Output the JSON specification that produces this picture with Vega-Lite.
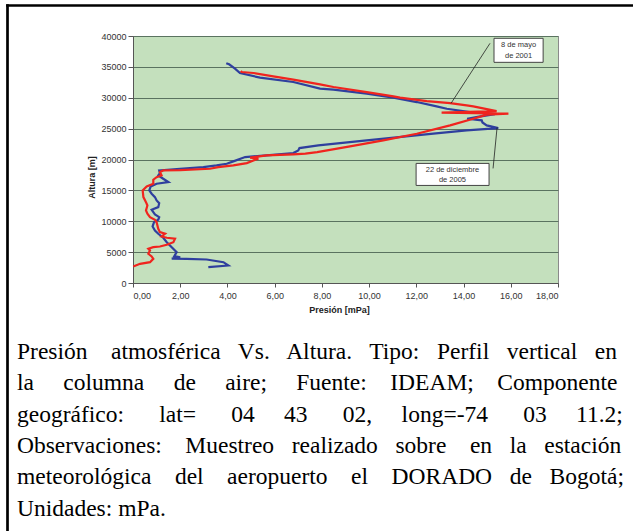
{
  "$schema": "https://vega.github.io/schema/vega-lite/v6.json",
  "width": 425,
  "height": 247,
  "autosize": {"type": "none"},
  "padding": {"left": 133, "top": 36, "right": 75, "bottom": 248},
  "background": "white",
  "config": {
    "view": {"fill": "#c4e0bd", "stroke": "#8a8a8a", "strokeWidth": 1},
    "font": "Liberation Sans"
  },
  "title": {
    "text": [
      "Presión\u00a0\u00a0\u00a0 atmosférica\u00a0\u00a0 Vs.\u00a0\u00a0 Altura.\u00a0\u00a0 Tipo:\u00a0\u00a0 Perfil\u00a0\u00a0 vertical\u00a0\u00a0 en",
      "la\u00a0\u00a0\u00a0\u00a0 columna\u00a0\u00a0\u00a0\u00a0 de\u00a0\u00a0\u00a0\u00a0 aire;\u00a0\u00a0\u00a0\u00a0 Fuente:\u00a0\u00a0\u00a0 IDEAM;\u00a0\u00a0\u00a0 Componente",
      "geográfico:\u00a0\u00a0\u00a0\u00a0\u00a0 lat=\u00a0\u00a0\u00a0\u00a0\u00a0 04\u00a0\u00a0\u00a0\u00a0 43\u00a0\u00a0\u00a0\u00a0\u00a0 02,\u00a0\u00a0\u00a0\u00a0 long=-74\u00a0\u00a0\u00a0\u00a0\u00a0 03\u00a0\u00a0\u00a0\u00a0 11.2;",
      "Observaciones:\u00a0\u00a0\u00a0 Muestreo\u00a0\u00a0 realizado\u00a0\u00a0 sobre\u00a0\u00a0\u00a0 en\u00a0\u00a0 la\u00a0\u00a0 estación",
      "meteorológica\u00a0\u00a0\u00a0 del\u00a0\u00a0\u00a0 aeropuerto\u00a0\u00a0\u00a0 el\u00a0\u00a0\u00a0 DORADO\u00a0\u00a0 de\u00a0\u00a0 Bogotá;",
      "Unidades: mPa."
    ],
    "orient": "bottom",
    "anchor": "start",
    "frame": "group",
    "offset": 0,
    "dx": -116,
    "dy": -203,
    "baseline": "alphabetic",
    "font": "Liberation Serif",
    "fontSize": 23.5,
    "fontWeight": "normal",
    "color": "#000000",
    "lineHeight": 31.3
  },
  "layer": [
    {
      "layer": [
        {
          "data": {"values": [
            {"s": "2005", "a": 2561, "p": 3.19},
            {"s": "2005", "a": 2836, "p": 4.04},
            {"s": "2005", "a": 3371, "p": 3.83},
            {"s": "2005", "a": 3809, "p": 3.12},
            {"s": "2005", "a": 3900, "p": 2.27},
            {"s": "2005", "a": 3950, "p": 1.64},
            {"s": "2005", "a": 4150, "p": 2.0},
            {"s": "2005", "a": 4350, "p": 1.75},
            {"s": "2005", "a": 4992, "p": 1.85},
            {"s": "2005", "a": 5802, "p": 1.64},
            {"s": "2005", "a": 6613, "p": 1.43},
            {"s": "2005", "a": 7325, "p": 1.28},
            {"s": "2005", "a": 7974, "p": 1.07},
            {"s": "2005", "a": 8509, "p": 0.93},
            {"s": "2005", "a": 9157, "p": 0.83},
            {"s": "2005", "a": 9854, "p": 0.89},
            {"s": "2005", "a": 10243, "p": 1.07},
            {"s": "2005", "a": 10664, "p": 1.11},
            {"s": "2005", "a": 11102, "p": 0.93},
            {"s": "2005", "a": 11475, "p": 0.86},
            {"s": "2005", "a": 11863, "p": 0.79},
            {"s": "2005", "a": 12285, "p": 1.07},
            {"s": "2005", "a": 12933, "p": 1.11},
            {"s": "2005", "a": 13371, "p": 1.0},
            {"s": "2005", "a": 13906, "p": 0.93},
            {"s": "2005", "a": 14457, "p": 0.79},
            {"s": "2005", "a": 14991, "p": 0.69},
            {"s": "2005", "a": 15640, "p": 0.75},
            {"s": "2005", "a": 16077, "p": 1.0},
            {"s": "2005", "a": 16337, "p": 1.5},
            {"s": "2005", "a": 16887, "p": 1.28},
            {"s": "2005", "a": 17422, "p": 1.07},
            {"s": "2005", "a": 17795, "p": 1.14},
            {"s": "2005", "a": 18233, "p": 1.11},
            {"s": "2005", "a": 18503, "p": 1.99},
            {"s": "2005", "a": 18767, "p": 2.98},
            {"s": "2005", "a": 19044, "p": 3.54},
            {"s": "2005", "a": 19316, "p": 3.97},
            {"s": "2005", "a": 19691, "p": 4.25},
            {"s": "2005", "a": 20392, "p": 4.75},
            {"s": "2005", "a": 20665, "p": 5.66},
            {"s": "2005", "a": 21040, "p": 6.79},
            {"s": "2005", "a": 21474, "p": 7.0},
            {"s": "2005", "a": 21850, "p": 7.05},
            {"s": "2005", "a": 22285, "p": 7.85},
            {"s": "2005", "a": 23095, "p": 9.9},
            {"s": "2005", "a": 24176, "p": 12.72},
            {"s": "2005", "a": 24715, "p": 14.13},
            {"s": "2005", "a": 25089, "p": 15.47},
            {"s": "2005", "a": 25526, "p": 14.98},
            {"s": "2005", "a": 26000, "p": 14.8},
            {"s": "2005", "a": 26336, "p": 14.77},
            {"s": "2005", "a": 26600, "p": 14.15},
            {"s": "2005", "a": 26900, "p": 14.6},
            {"s": "2005", "a": 27261, "p": 15.19},
            {"s": "2005", "a": 27350, "p": 15.33},
            {"s": "2005", "a": 27682, "p": 14.27},
            {"s": "2005", "a": 28223, "p": 13.29},
            {"s": "2005", "a": 28606, "p": 12.86},
            {"s": "2005", "a": 29304, "p": 12.02},
            {"s": "2005", "a": 30011, "p": 11.03},
            {"s": "2005", "a": 30660, "p": 9.9},
            {"s": "2005", "a": 31308, "p": 8.49},
            {"s": "2005", "a": 31470, "p": 7.92},
            {"s": "2005", "a": 32551, "p": 6.79},
            {"s": "2005", "a": 33254, "p": 5.38},
            {"s": "2005", "a": 34010, "p": 4.53},
            {"s": "2005", "a": 34713, "p": 4.32},
            {"s": "2005", "a": 35412, "p": 4.07},
            {"s": "2005", "a": 35600, "p": 3.95},
            {"s": "2001", "a": 2674, "p": 0.01},
            {"s": "2001", "a": 3111, "p": 0.3},
            {"s": "2001", "a": 3371, "p": 0.72},
            {"s": "2001", "a": 3922, "p": 0.86},
            {"s": "2001", "a": 4295, "p": 0.79},
            {"s": "2001", "a": 4727, "p": 0.65},
            {"s": "2001", "a": 5267, "p": 0.72},
            {"s": "2001", "a": 5543, "p": 0.65},
            {"s": "2001", "a": 5802, "p": 0.86},
            {"s": "2001", "a": 5916, "p": 1.14},
            {"s": "2001", "a": 6191, "p": 1.43},
            {"s": "2001", "a": 6613, "p": 1.71},
            {"s": "2001", "a": 7163, "p": 1.78},
            {"s": "2001", "a": 7325, "p": 1.43},
            {"s": "2001", "a": 7536, "p": 1.21},
            {"s": "2001", "a": 7974, "p": 1.36},
            {"s": "2001", "a": 8238, "p": 1.14},
            {"s": "2001", "a": 8785, "p": 1.07},
            {"s": "2001", "a": 9854, "p": 1.0},
            {"s": "2001", "a": 10243, "p": 0.93},
            {"s": "2001", "a": 10664, "p": 0.72},
            {"s": "2001", "a": 11215, "p": 0.61},
            {"s": "2001", "a": 11750, "p": 0.55},
            {"s": "2001", "a": 12560, "p": 0.61},
            {"s": "2001", "a": 13095, "p": 0.55},
            {"s": "2001", "a": 13906, "p": 0.44},
            {"s": "2001", "a": 14991, "p": 0.41},
            {"s": "2001", "a": 15640, "p": 0.58},
            {"s": "2001", "a": 16077, "p": 0.86},
            {"s": "2001", "a": 16726, "p": 0.86},
            {"s": "2001", "a": 17147, "p": 1.0},
            {"s": "2001", "a": 17422, "p": 1.21},
            {"s": "2001", "a": 17957, "p": 1.14},
            {"s": "2001", "a": 18233, "p": 1.28},
            {"s": "2001", "a": 18280, "p": 2.0},
            {"s": "2001", "a": 18503, "p": 3.26},
            {"s": "2001", "a": 18767, "p": 3.61},
            {"s": "2001", "a": 19044, "p": 4.25},
            {"s": "2001", "a": 19420, "p": 4.82},
            {"s": "2001", "a": 19853, "p": 5.1},
            {"s": "2001", "a": 20128, "p": 5.31},
            {"s": "2001", "a": 20290, "p": 4.96},
            {"s": "2001", "a": 20665, "p": 5.66},
            {"s": "2001", "a": 20826, "p": 6.79},
            {"s": "2001", "a": 20937, "p": 7.3},
            {"s": "2001", "a": 21204, "p": 7.8},
            {"s": "2001", "a": 22123, "p": 9.19},
            {"s": "2001", "a": 23095, "p": 10.6},
            {"s": "2001", "a": 24176, "p": 12.02},
            {"s": "2001", "a": 25526, "p": 13.43},
            {"s": "2001", "a": 26610, "p": 14.41},
            {"s": "2001", "a": 27261, "p": 14.98},
            {"s": "2001", "a": 27422, "p": 15.9},
            {"s": "2001", "a": 27584, "p": 13.07},
            {"s": "2001", "a": 27844, "p": 15.4},
            {"s": "2001", "a": 28606, "p": 14.41},
            {"s": "2001", "a": 28768, "p": 14.13},
            {"s": "2001", "a": 29141, "p": 13.43},
            {"s": "2001", "a": 29465, "p": 12.44},
            {"s": "2001", "a": 30011, "p": 11.31},
            {"s": "2001", "a": 30227, "p": 11.03},
            {"s": "2001", "a": 30924, "p": 9.9},
            {"s": "2001", "a": 31740, "p": 8.49},
            {"s": "2001", "a": 32172, "p": 7.92},
            {"s": "2001", "a": 32929, "p": 6.79},
            {"s": "2001", "a": 33468, "p": 5.94},
            {"s": "2001", "a": 34010, "p": 5.1},
            {"s": "2001", "a": 34172, "p": 4.6},
            {"s": "2001", "a": 34335, "p": 4.57}
          ]},
          "mark": {"type": "line", "strokeWidth": 2.2, "interpolate": "linear"},
          "encoding": {
            "x": {"field": "p", "type": "quantitative",
                  "scale": {"domain": [0, 18], "nice": false},
                  "axis": {
                    "orient": "bottom",
                    "values": [0, 2, 4, 6, 8, 10, 12, 14, 16, 18],
                    "labelExpr": "replace(format(datum.value, '.2f'), '.', ',')",
                    "labelFont": "Liberation Sans", "labelFontSize": 9, "labelColor": "#333333",
                    "labelPadding": 4, "tickSize": 4, "tickColor": "#555555",
                    "domainColor": "#555555", "grid": false,
                    "title": "Presión  [mPa]", "titleFont": "Liberation Sans", "titleFontSize": 9,
                    "titleFontWeight": "bold", "titleColor": "#222222",
                    "titleX": 206, "titleY": 26, "titleBaseline": "middle", "titleAlign": "center"
                  }},
            "y": {"field": "a", "type": "quantitative",
                  "scale": {"domain": [0, 40000], "nice": false},
                  "axis": {
                    "orient": "left",
                    "values": [0, 5000, 10000, 15000, 20000, 25000, 30000, 35000, 40000],
                    "format": "d",
                    "labelFont": "Liberation Sans", "labelFontSize": 9, "labelColor": "#333333",
                    "labelPadding": 2, "tickSize": 5, "tickColor": "#555555",
                    "domainColor": "#555555",
                    "grid": true, "gridColor": "#5a7360", "gridWidth": 1,
                    "title": "Altura  [m]", "titleFont": "Liberation Sans", "titleFontSize": 9,
                    "titleFontWeight": "bold", "titleColor": "#222222",
                    "titleX": -42, "titleY": 141, "titleAngle": -90, "titleBaseline": "middle", "titleAlign": "center"
                  }},
            "color": {"field": "s", "type": "nominal",
                      "scale": {"domain": ["2005", "2001"], "range": ["#2f3f9e", "#f0241e"]},
                      "legend": null},
            "order": {"field": "a", "type": "quantitative"}
          }
        },
        {
          "data": {"values": [
            {"p": 15.12, "a": 38816, "p2": 13.47, "a2": 29092},
            {"p": 15.42, "a": 25202, "p2": 15.25, "a2": 18557}
          ]},
          "mark": {"type": "rule", "color": "#222222", "strokeWidth": 0.8},
          "encoding": {
            "x": {"field": "p", "type": "quantitative", "scale": {"domain": [0, 18], "nice": false},
                  "axis": {
                    "orient": "bottom",
                    "values": [0, 2, 4, 6, 8, 10, 12, 14, 16, 18],
                    "labelExpr": "replace(format(datum.value, '.2f'), '.', ',')",
                    "labelFont": "Liberation Sans", "labelFontSize": 9, "labelColor": "#333333",
                    "labelPadding": 4, "tickSize": 4, "tickColor": "#555555",
                    "domainColor": "#555555", "grid": false,
                    "title": "Presión  [mPa]", "titleFont": "Liberation Sans", "titleFontSize": 9,
                    "titleFontWeight": "bold", "titleColor": "#222222",
                    "titleX": 206, "titleY": 26, "titleBaseline": "middle", "titleAlign": "center"
                  }},
            "x2": {"field": "p2"},
            "y": {"field": "a", "type": "quantitative", "scale": {"domain": [0, 40000], "nice": false},
                  "axis": {
                    "orient": "left",
                    "values": [0, 5000, 10000, 15000, 20000, 25000, 30000, 35000, 40000],
                    "format": "d",
                    "labelFont": "Liberation Sans", "labelFontSize": 9, "labelColor": "#333333",
                    "labelPadding": 2, "tickSize": 5, "tickColor": "#555555",
                    "domainColor": "#555555",
                    "grid": true, "gridColor": "#5a7360", "gridWidth": 1,
                    "title": "Altura  [m]", "titleFont": "Liberation Sans", "titleFontSize": 9,
                    "titleFontWeight": "bold", "titleColor": "#222222",
                    "titleX": -42, "titleY": 141, "titleAngle": -90, "titleBaseline": "middle", "titleAlign": "center"
                  }},
            "y2": {"field": "a2"}
          }
        },
        {
          "data": {"values": [
            {"p": 15.29, "p2": 17.37, "a": 35736, "a2": 39626},
            {"p": 11.99, "p2": 15.08, "a": 15802, "a2": 19367}
          ]},
          "mark": {"type": "rect", "fill": "#ffffff", "stroke": "#444444", "strokeWidth": 1},
          "encoding": {
            "x": {"field": "p", "type": "quantitative", "scale": {"domain": [0, 18], "nice": false},
                  "axis": {
                    "orient": "bottom",
                    "values": [0, 2, 4, 6, 8, 10, 12, 14, 16, 18],
                    "labelExpr": "replace(format(datum.value, '.2f'), '.', ',')",
                    "labelFont": "Liberation Sans", "labelFontSize": 9, "labelColor": "#333333",
                    "labelPadding": 4, "tickSize": 4, "tickColor": "#555555",
                    "domainColor": "#555555", "grid": false,
                    "title": "Presión  [mPa]", "titleFont": "Liberation Sans", "titleFontSize": 9,
                    "titleFontWeight": "bold", "titleColor": "#222222",
                    "titleX": 206, "titleY": 26, "titleBaseline": "middle", "titleAlign": "center"
                  }},
            "x2": {"field": "p2"},
            "y": {"field": "a", "type": "quantitative", "scale": {"domain": [0, 40000], "nice": false},
                  "axis": {
                    "orient": "left",
                    "values": [0, 5000, 10000, 15000, 20000, 25000, 30000, 35000, 40000],
                    "format": "d",
                    "labelFont": "Liberation Sans", "labelFontSize": 9, "labelColor": "#333333",
                    "labelPadding": 2, "tickSize": 5, "tickColor": "#555555",
                    "domainColor": "#555555",
                    "grid": true, "gridColor": "#5a7360", "gridWidth": 1,
                    "title": "Altura  [m]", "titleFont": "Liberation Sans", "titleFontSize": 9,
                    "titleFontWeight": "bold", "titleColor": "#222222",
                    "titleX": -42, "titleY": 141, "titleAngle": -90, "titleBaseline": "middle", "titleAlign": "center"
                  }},
            "y2": {"field": "a2"}
          }
        },
        {
          "data": {"values": [
            {"p": 16.33, "a": 38492, "t": "8 de mayo"},
            {"p": 16.33, "a": 36709, "t": "de 2001"},
            {"p": 13.53, "a": 18314, "t": "22 de diciembre"},
            {"p": 13.53, "a": 16612, "t": "de 2005"}
          ]},
          "mark": {"type": "text", "font": "Liberation Sans", "fontSize": 7.5, "color": "#333333", "align": "center", "baseline": "middle"},
          "encoding": {
            "x": {"field": "p", "type": "quantitative", "scale": {"domain": [0, 18], "nice": false},
                  "axis": {
                    "orient": "bottom",
                    "values": [0, 2, 4, 6, 8, 10, 12, 14, 16, 18],
                    "labelExpr": "replace(format(datum.value, '.2f'), '.', ',')",
                    "labelFont": "Liberation Sans", "labelFontSize": 9, "labelColor": "#333333",
                    "labelPadding": 4, "tickSize": 4, "tickColor": "#555555",
                    "domainColor": "#555555", "grid": false,
                    "title": "Presión  [mPa]", "titleFont": "Liberation Sans", "titleFontSize": 9,
                    "titleFontWeight": "bold", "titleColor": "#222222",
                    "titleX": 206, "titleY": 26, "titleBaseline": "middle", "titleAlign": "center"
                  }},
            "y": {"field": "a", "type": "quantitative", "scale": {"domain": [0, 40000], "nice": false},
                  "axis": {
                    "orient": "left",
                    "values": [0, 5000, 10000, 15000, 20000, 25000, 30000, 35000, 40000],
                    "format": "d",
                    "labelFont": "Liberation Sans", "labelFontSize": 9, "labelColor": "#333333",
                    "labelPadding": 2, "tickSize": 5, "tickColor": "#555555",
                    "domainColor": "#555555",
                    "grid": true, "gridColor": "#5a7360", "gridWidth": 1,
                    "title": "Altura  [m]", "titleFont": "Liberation Sans", "titleFontSize": 9,
                    "titleFontWeight": "bold", "titleColor": "#222222",
                    "titleX": -42, "titleY": 141, "titleAngle": -90, "titleBaseline": "middle", "titleAlign": "center"
                  }},
            "text": {"field": "t"}
          }
        }
      ]
    },
    {
      "data": {"values": [{"f": 0}, {"f": 1}]},
      "mark": {"type": "point", "opacity": 0},
      "encoding": {
        "x": {"field": "f", "type": "quantitative",
              "scale": {"domain": [0, 1], "range": [-126, 500], "nice": false},
              "axis": {"orient": "top", "offset": 31, "domain": true, "domainColor": "#000000", "domainWidth": 2.7, "domainCap": "square", "ticks": false, "labels": false, "grid": false, "title": null}},
        "y": {"field": "f", "type": "quantitative",
              "scale": {"domain": [0, 1], "range": [495, -31], "nice": false},
              "axis": {"orient": "left", "offset": 126, "domain": true, "domainColor": "#000000", "domainWidth": 2.7, "domainCap": "square", "ticks": false, "labels": false, "grid": false, "title": null}}
      }
    }
  ],
  "resolve": {"scale": {"x": "independent", "y": "independent"}}
}
